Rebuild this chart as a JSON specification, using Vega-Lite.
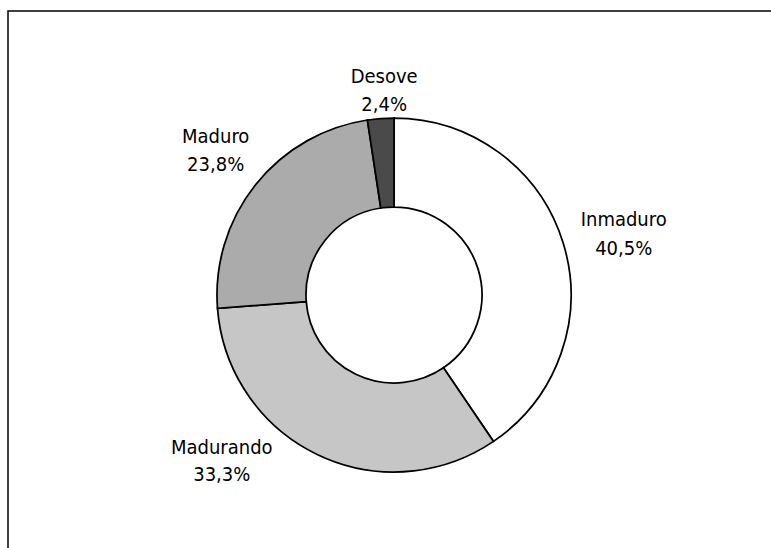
{
  "$schema": "https://vega.github.io/schema/vega-lite/v6.json",
  "autosize": {"type": "none"},
  "width": 772,
  "height": 568,
  "padding": {"left": 8, "top": 11, "right": 0, "bottom": 0},
  "background": "white",
  "view": {"stroke": "black", "strokeWidth": 1.5, "fill": "white"},
  "config": {"view": {"stroke": "black", "strokeWidth": 1.5}},
  "data": {"values": [
    {"cat": "Inmaduro", "pct": 40.5, "etiqueta": "Inmaduro\n40,5%"},
    {"cat": "Madurando", "pct": 33.3, "etiqueta": "Madurando\n33,3%"},
    {"cat": "Maduro", "pct": 23.8, "etiqueta": "Maduro\n23,8%"},
    {"cat": "Desove", "pct": 2.4, "etiqueta": "Desove\n2,4%"}
  ]},
  "encoding": {
    "theta": {"field": "pct", "type": "quantitative", "stack": true},
    "order": {"field": "pct", "type": "quantitative", "sort": "descending"}
  },
  "layer": [
    {
      "mark": {"type": "arc", "outerRadius": 177, "innerRadius": 88, "stroke": "black", "strokeWidth": 1.75},
      "encoding": {
        "color": {"field": "cat", "type": "nominal", "legend": null,
          "scale": {"domain": ["Inmaduro", "Madurando", "Maduro", "Desove"], "range": ["#ffffff", "#c6c6c6", "#ababab", "#4a4a4a"]}}
      }
    },
    {
      "mark": {"type": "text", "radius": 210, "dx": 6, "dy": -9, "font": "DejaVu Sans Condensed, DejaVu Sans", "fontSize": 20, "lineBreak": "\n", "lineHeight": 28, "color": "black", "baseline": "middle", "align": "center"},
      "encoding": {"text": {"condition": {"test": "datum.cat === 'Desove'", "field": "etiqueta"}, "value": ""}}
    },
    {
      "mark": {"type": "text", "radius": 210, "dx": -14, "dy": -27, "font": "DejaVu Sans Condensed, DejaVu Sans", "fontSize": 20, "lineBreak": "\n", "lineHeight": 28, "color": "black", "baseline": "middle", "align": "center"},
      "encoding": {"text": {"condition": {"test": "datum.cat === 'Maduro'", "field": "etiqueta"}, "value": ""}}
    },
    {
      "mark": {"type": "text", "radius": 210, "dx": 29, "dy": -13, "font": "DejaVu Sans Condensed, DejaVu Sans", "fontSize": 20, "lineBreak": "\n", "lineHeight": 29, "color": "black", "baseline": "middle", "align": "center"},
      "encoding": {"text": {"condition": {"test": "datum.cat === 'Inmaduro'", "field": "etiqueta"}, "value": ""}}
    },
    {
      "mark": {"type": "text", "radius": 210, "dx": -81, "dy": -36, "font": "DejaVu Sans Condensed, DejaVu Sans", "fontSize": 20, "lineBreak": "\n", "lineHeight": 27, "color": "black", "baseline": "middle", "align": "center"},
      "encoding": {"text": {"condition": {"test": "datum.cat === 'Madurando'", "field": "etiqueta"}, "value": ""}}
    }
  ]
}
